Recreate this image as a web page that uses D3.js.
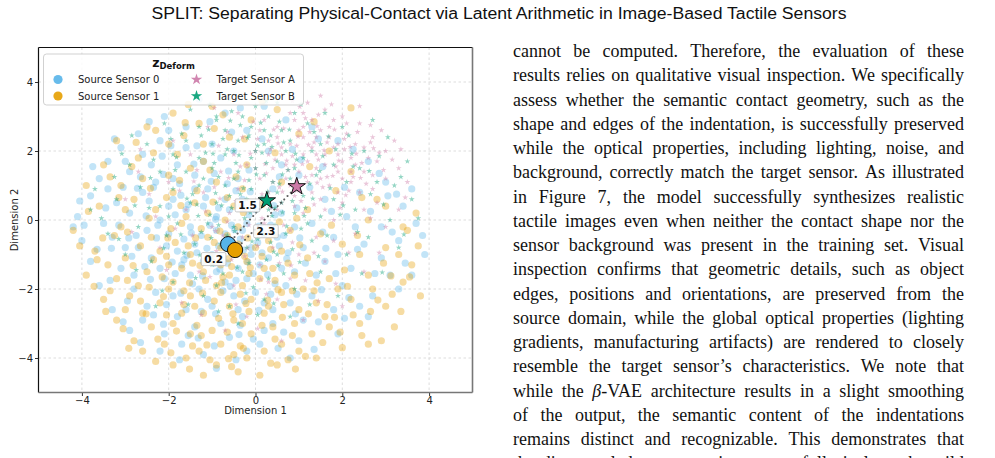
<!DOCTYPE html>
<html>
<head>
<meta charset="utf-8">
<script src="https://cdn.jsdelivr.net/npm/d3@7"></script>
<style>
  body { margin: 0; background: #fff; }
</style>
</head>
<body>
<svg id="page" width="995" height="458"></svg>
<script>
// ---- data (latent space, 2D projection) ----
const xTicks = [-4, -2, 0, 2, 4];
const yTicks = [-4, -2, 0, 2, 4];

const src0Points = [
  [-1.3,3.5],[0.2,3.3],[-2.1,3.0],[-0.7,3.1],[0.7,2.9],[-1.6,2.7],[-2.7,2.5],[-0.2,2.6],[1.3,2.7],[-3.1,2.1],
  [-2.2,2.3],[-1.0,2.2],[0.3,2.0],[1.9,2.3],[-3.4,1.7],[-2.6,1.9],[-1.8,1.6],[-0.8,1.8],[0.6,1.6],[2.6,1.7],
  [-3.6,1.2],[-2.9,1.4],[-2.3,1.1],[-1.4,1.3],[-0.4,1.2],[1.0,1.3],[3.0,1.1],[-3.8,0.7],[-3.2,0.5],[-2.6,0.8],
  [-1.9,0.6],[-1.1,0.9],[-0.3,0.6],[0.4,0.9],[1.6,0.6],[2.4,0.8],[3.4,0.4],[-4.1,0.1],[-3.5,-0.1],[-2.9,0.2],
  [-2.2,0.0],[-1.6,0.3],[-0.9,0.1],[-0.2,-0.1],[0.6,0.2],[1.3,-0.1],[2.1,0.1],[2.9,-0.2],[3.7,-0.1],[-4.0,-0.6],
  [-3.3,-0.5],[-2.7,-0.8],[-2.0,-0.4],[-1.4,-0.7],[-0.7,-0.4],[-0.1,-0.8],[0.5,-0.5],[1.1,-0.8],[1.8,-0.5],[2.5,-0.7],
  [3.3,-0.6],[3.9,-1.0],[-3.8,-1.2],[-3.1,-1.4],[-2.4,-1.1],[-1.7,-1.3],[-1.0,-1.0],[-0.4,-1.4],[0.3,-1.1],[0.9,-1.5],
  [1.6,-1.2],[2.2,-1.4],[2.9,-1.1],[3.6,-1.6],[-3.6,-1.9],[-2.8,-2.0],[-2.1,-1.7],[-1.3,-2.0],[-0.7,-1.8],[0.0,-2.1],
  [0.7,-1.9],[1.3,-2.2],[2.0,-1.9],[2.7,-2.2],[3.3,-2.0],[-3.3,-2.6],[-2.5,-2.5],[-1.8,-2.8],[-1.0,-2.5],[-0.3,-2.8],
  [0.4,-2.6],[1.1,-2.9],[1.8,-2.6],[2.6,-2.8],[-2.9,-3.2],[-2.1,-3.3],[-1.4,-3.1],[-0.6,-3.4],[0.2,-3.2],[1.0,-3.5],
  [1.9,-3.3],[-2.2,-3.8],[-1.2,-3.9],[-0.2,-3.8],[0.8,-4.0],[-0.9,-4.3],
  [-1.2,0.4],[-0.6,0.3],[-1.5,-0.2],[-0.9,-0.3],[-0.3,-0.3],[0.2,-0.4],[-1.8,-0.9],[-1.2,-1.2],[-0.5,-1.0],[0.1,-1.3],
  [-2.2,-1.4],[-1.5,-1.6],[-0.9,-1.5],[-0.2,-1.7],[0.6,-1.4],[-1.9,-2.2],[-1.1,-2.3],[-0.5,-2.2],[0.2,-2.4],[-1.4,0.9],
  [-2.0,0.4],[-2.5,-0.3],[-0.7,0.6],[0.0,0.3],[0.9,-0.2],[-2.8,-1.6],[-0.1,-1.0],[-1.6,-2.6],[-2.3,-2.1],[0.8,-2.4],
  [-0.4,-2.6],[-1.9,1.2],[-2.4,1.6],[-1.2,1.7],[-3.0,-0.8],[1.4,-1.6],[-3.4,0.9],[-2.0,2.6],[-1.6,2.1],[-0.5,2.0],
  [2.3,-0.2],[1.9,-1.0],[0.4,-3.0],[-0.8,-3.0],[-2.6,-2.9],[-3.0,1.7],[3.1,-1.6],[2.4,-2.5],[0.1,-3.6],[-1.7,-3.6],
  [3.6,0.9],[3.05,0.7],[-4.2,-0.2],
  [-0.35,-0.55],[-1.05,-0.15],[-1.65,-0.55],[-0.85,-0.75],[0.35,-0.15],[-0.15,0.15],[-1.35,-0.95],[-0.65,-1.25],[0.05,-0.65],[0.75,-0.95],
  [-2.05,-0.75],[-1.85,0.15],[-1.15,0.65],[-0.45,0.85],[0.25,0.55],[0.95,0.35],[-2.45,0.55],[-2.75,-0.45],[-1.45,-1.85],[-0.75,-2.05],
  [0.45,-1.85],[1.15,-1.25],[1.55,-0.35],[-2.55,-1.35],[-3.15,-0.15],[-1.75,1.05],[-0.95,1.35],[-0.15,1.45],[0.55,1.25],[1.25,0.95],
  [-2.15,1.85],[-1.35,2.15],[-0.55,2.55],[0.15,2.35],[0.85,2.05],[1.55,1.55],[2.05,0.95],[2.65,0.25],[3.15,-0.35],[-3.45,0.35],
  [-3.65,-0.85],[-3.35,-1.75],[-2.95,-2.35],[-2.35,-2.75],[-1.55,-3.35],[-0.95,-3.65],[-0.05,-3.45],[0.65,-3.25],[1.45,-2.95],[2.15,-2.25],
  [2.75,-1.55],[3.45,-1.25],[3.85,-0.45],[-4.05,0.55],[-3.95,-0.15],[-1.25,-0.45],[-0.55,-0.15],[-0.05,-1.55],[-1.85,-1.55],[-2.25,-0.15],
  [-1.55,0.45],[-0.85,0.35],[0.15,-0.95],[0.65,-0.45],[-0.25,-2.35],[-1.25,-2.65],[-2.05,-2.45],[0.95,-2.15],[1.85,-1.55],[2.35,-0.85],
  [1.75,0.25],[0.45,0.15],[-0.65,1.05],[-2.65,1.25],[-3.05,0.95],[-2.85,-1.05],[-0.35,-3.05],[0.35,-2.15],[-1.65,-1.15],[-0.95,-1.25],
  [-0.45,-1.75],[-2.35,0.95],[-1.95,2.15],[-1.05,2.85],[-0.35,3.25],[-2.45,2.85],[-3.25,2.35],[1.05,1.75],[1.45,2.35],[2.25,2.05],
  [2.85,1.35],[3.25,0.75],[-3.75,1.55],[2.05,-2.85],[1.35,-3.75],[-0.45,-4.05],[-1.75,-4.05],[-2.65,-3.55],[-3.05,-2.95],[0.55,-0.75],
  [-0.72,-0.62],[-0.28,-0.88],[-1.12,-0.82],[-0.48,-0.28],[-1.48,-0.38],[-0.92,0.02],[0.08,-0.18],[-0.18,-1.22],[-0.82,-1.42],[-1.58,-1.02],
  [-2.28,-0.52],[-1.92,-1.22],[-1.22,-1.62],[-0.58,-1.92],[0.28,-1.58],[0.72,-1.12],[1.02,-0.52],[0.42,0.42],[-0.32,0.42],[-1.02,1.12],
  [-1.72,0.72],[-2.52,0.12],[-2.92,-0.52],[-2.42,-1.72],[-1.72,-2.12],[-0.92,-2.72],[0.08,-2.62],[0.92,-2.72],[1.52,-2.02],[1.62,-0.82],
  [-0.12,0.82],[-0.62,1.42],[-1.42,1.62],[-2.12,1.32],[-2.72,0.92],[-3.32,-0.82],[-2.12,-3.02],[-1.32,-3.42],[-0.38,-3.32],[0.52,-3.72]
];

const src1Points = [
  [-1.0,3.3],[-1.9,3.1],[0.5,3.2],[-2.5,2.7],[-1.3,2.8],[-0.1,2.9],[1.0,2.5],[-3.2,2.3],[-2.0,2.2],[-0.6,2.4],
  [1.7,2.0],[-3.5,1.6],[-2.7,1.8],[-1.5,1.5],[-0.2,1.6],[2.2,1.4],[-3.9,1.0],[-3.1,1.0],[-2.0,1.3],[-0.9,1.1],
  [0.6,1.1],[2.8,0.6],[-3.6,0.4],[-2.8,0.6],[-1.4,0.5],[-0.5,0.4],[1.2,0.3],[2.6,0.0],[3.5,-0.3],[-4.2,-0.3],
  [-3.1,-0.2],[-2.4,-0.5],[-1.7,-0.1],[-1.1,-0.5],[-0.4,-0.2],[0.3,-0.6],[1.5,-0.4],[3.0,-0.8],[-3.7,-0.9],[-3.0,-1.1],
  [-2.2,-0.9],[-1.5,-1.0],[-0.8,-0.8],[-0.2,-1.2],[0.6,-0.9],[1.2,-1.1],[2.4,-1.0],[3.6,-1.3],[-3.9,-1.6],[-3.2,-1.7],
  [-2.5,-1.5],[-1.9,-1.8],[-1.2,-1.5],[-0.6,-1.6],[0.1,-1.7],[0.9,-1.6],[1.7,-1.7],[2.6,-1.6],[3.4,-1.8],[-3.5,-2.3],
  [-2.9,-2.2],[-2.2,-2.4],[-1.5,-2.2],[-0.8,-2.1],[-0.1,-2.3],[0.6,-2.1],[1.4,-2.4],[2.2,-2.3],[3.0,-2.5],[3.8,-2.2],
  [-3.2,-2.9],[-2.6,-2.7],[-1.9,-3.0],[-1.2,-2.7],[-0.5,-2.9],[0.2,-2.7],[0.9,-3.0],[1.6,-2.8],[2.4,-3.0],[3.2,-3.1],
  [-2.8,-3.5],[-2.1,-3.6],[-1.5,-3.3],[-0.8,-3.6],[-0.1,-3.3],[0.6,-3.6],[1.3,-3.3],[2.0,-3.7],[2.9,-3.5],[-2.3,-4.1],
  [-1.6,-4.0],[-0.9,-4.2],[-0.2,-4.0],[0.5,-4.2],[1.4,-4.0],[-1.2,-4.5],[0.1,-4.5],
  [-1.0,-1.2],[-0.4,-0.7],[-1.7,-1.4],[-0.9,-1.9],[-0.3,-1.9],[0.4,-1.4],[-2.0,-2.0],[-1.4,-2.5],[-0.6,-2.5],[0.3,-2.5],
  [1.0,-2.6],[-2.4,-3.1],[-1.7,-2.7],[-1.0,-3.2],[-0.3,-3.0],[0.4,-3.1],[1.7,-3.1],[-2.6,-3.8],[-1.3,-3.8],[-0.5,-3.9],
  [1.0,-3.8],[-2.0,-1.3],[-2.7,-1.9],[-1.6,0.1],[-0.7,0.0],[-2.3,0.3],[-2.6,1.2],[-1.8,1.9],[-0.8,-1.3],[0.0,-0.8],
  [0.8,-0.3],[1.9,-2.0],[2.7,-2.0],[2.0,-0.7],[-3.4,-1.3],[-3.0,0.3],[-1.2,2.2],[-2.3,2.6],[-0.3,0.9],[-1.1,0.2],
  [1.1,-2.0],[0.2,-3.8],[-1.9,-4.2],[-3.0,-2.6],[2.6,-3.6],[3.3,-1.0],[-0.4,-4.4],[-1.2,1.7],[-1.9,0.8],[0.2,-1.4],
  [2.2,3.25],[3.7,0.2],[3.4,-0.2],[3.0,0.4],
  [-0.25,-1.05],[-0.95,-0.65],[-1.45,-1.25],[-0.55,-1.35],[0.15,-1.05],[0.75,-1.25],[-1.85,-0.65],[-2.35,-1.15],[-1.15,-1.75],[-0.35,-2.15],
  [0.45,-1.75],[1.25,-1.55],[-2.15,-1.65],[-1.65,-2.05],[-0.95,-2.35],[-0.15,-2.65],[0.65,-2.45],[1.35,-2.05],[2.05,-1.45],[-2.65,-2.35],
  [-2.05,-2.75],[-1.35,-3.05],[-0.65,-3.25],[0.15,-3.05],[0.85,-3.35],[1.55,-3.55],[2.25,-2.75],[-2.95,-1.75],[-3.35,-2.05],[-3.65,-1.15],
  [-1.25,-0.25],[-0.65,-0.45],[0.05,-0.35],[0.55,-0.05],[-1.95,-0.25],[-2.65,-0.75],[-3.25,-0.45],[-2.05,0.65],[-1.35,0.85],[-0.65,0.65],
  [0.15,0.45],[0.95,0.05],[1.75,-0.15],[2.35,-0.45],[2.95,-1.25],[3.55,-1.65],[3.15,-2.15],[2.65,-2.65],[1.95,-3.25],[1.15,-3.95],
  [0.35,-4.15],[-0.55,-4.25],[-1.45,-3.65],[-2.25,-3.45],[-3.05,-3.15],[-3.45,-2.65],[-2.85,1.55],[-2.35,1.95],[-1.65,2.45],[-0.95,2.65],
  [-0.25,2.35],[0.45,1.95],[1.25,1.55],[1.85,0.85],[2.45,0.65],[-3.35,1.25],[-3.85,0.25],[-4.05,-0.75],[-1.05,1.45],[-0.45,1.25],
  [-1.75,1.15],[-2.45,0.05],[-0.85,-2.85],[-1.65,-2.45],[-2.45,-1.95],[0.85,-2.05],[1.65,-2.45],[-0.15,-1.55],[-1.05,-1.05],[-0.45,-0.95],
  [0.35,-0.85],[-1.55,-0.75],[-2.95,-0.35],[-3.15,0.65],[-1.95,-3.85],[-1.05,-4.05],[0.75,-4.05],[2.45,-3.35],[3.35,-2.65],[3.75,-0.75],
  [-0.75,3.05],[0.15,3.45],[-1.55,3.35],[1.35,2.85],[-2.75,2.25],[-0.35,-3.65],[-1.25,-3.35],[0.45,-3.45],[-2.05,-1.05],[-0.75,-1.65],
  [-0.62,-1.12],[-0.12,-1.38],[-1.28,-1.32],[-0.78,-1.82],[-0.22,-2.42],[0.52,-2.02],[-1.52,-1.82],[-2.12,-2.22],[-1.22,-2.12],[-0.52,-2.72],
  [0.28,-2.32],[1.22,-2.72],[-1.82,-3.22],[-1.12,-3.62],[-0.28,-3.72],[0.62,-2.82],[1.42,-1.82],[-2.52,-2.72],[-2.82,-1.32],[-2.02,-0.52],
  [-1.38,-0.52],[-0.82,-0.32],[-0.18,-0.52],[0.42,-0.42],[1.02,-0.72],[-1.72,0.42],[-0.98,0.52],[-0.28,0.22],[-2.42,0.92],[-3.52,-0.52],
  [2.12,-1.92],[2.82,-2.32],[1.82,-2.82],[-0.62,-4.02],[-1.52,-4.32],[0.92,-4.32],[-2.92,-3.72],[3.12,-1.62],[-3.72,-1.92],[-1.62,2.82]
];

const tgtAPoints = [
  [1.2,3.4],[1.6,3.2],[0.8,3.1],[2.0,3.0],[1.3,2.9],[2.4,2.8],[0.5,2.7],[1.0,2.6],[1.7,2.7],[2.1,2.5],
  [2.7,2.4],[0.3,2.3],[0.8,2.2],[1.4,2.4],[1.9,2.2],[2.5,2.1],[3.0,2.0],[0.0,2.0],[0.6,1.9],[1.1,1.9],
  [1.6,1.9],[2.2,1.8],[2.8,1.7],[3.3,1.5],[-0.2,1.6],[0.4,1.5],[0.9,1.6],[1.4,1.5],[1.9,1.4],[2.5,1.4],
  [3.0,1.2],[0.1,1.2],[0.7,1.2],[1.2,1.1],[1.7,1.0],[2.2,1.1],[2.7,0.9],[-0.4,0.9],[0.3,0.8],[0.9,0.7],
  [1.5,0.6],[2.0,0.5],[2.5,0.3],[-0.1,0.4],[0.5,0.3],[1.1,0.2],[1.8,0.0],[0.2,-0.1],[0.8,-0.3],[1.4,-0.5],
  [1.3,2.1],[1.8,2.9],[2.3,2.2],[0.9,2.9],[1.5,1.2],[2.0,1.7],[1.0,1.4],[0.5,2.4],[2.6,1.8],[1.7,2.4],
  [2.2,1.4],[1.2,1.7],[0.7,1.6],[1.9,1.9],[1.1,2.4],[2.9,2.6],[2.4,3.3],[1.5,3.6],[0.2,2.9],[3.2,2.3],
  [3.5,1.1],[2.8,0.5],[0.6,0.5],[1.3,0.8],[1.9,0.8],[0.0,1.5],[-0.5,1.9],[-0.3,2.4],[0.4,1.1],[2.4,0.8],
  [1.6,1.6],[2.1,2.8],[0.8,1.0],[1.4,1.9],[2.0,1.2],[1.1,3.1],[0.6,2.1],
  [1.1,2.7],[1.8,2.1],[0.3,1.9],[2.3,1.6],[1.5,2.6],[0.9,0.4],[1.6,0.3],[2.7,1.3],[0.1,2.6],[1.3,1.3],
  [-0.8,1.4],[-1.2,0.8],[-0.6,0.2],[-1.5,1.9],[-2.0,1.1],[-1.0,-0.2],[-0.3,-0.5],[0.4,-0.8],[1.0,-1.0],[-1.6,0.3],
  [-0.9,-0.9],[0.1,-1.3],[0.8,-1.7],[-2.3,0.1],[-1.3,-1.5],[-0.5,-1.9],[0.5,-2.3],[1.6,-1.2],[2.3,-0.4],[3.0,-0.2],
  [-2.7,1.4],[-1.9,2.3],[-1.1,2.7],[-0.4,3.1],[2.5,-1.5],[-2.2,-0.8],[-0.2,-2.8],[1.1,-2.9],[3.3,0.3],[-1.7,-2.4],
  [-0.7,-3.2],[0.6,-3.5],[2.0,-2.5],[-3.0,0.6],[0.3,-1.8],[1.8,-0.6],
  [1.25,2.55],[1.65,2.25],[2.05,2.05],[0.95,2.15],[1.45,1.75],[1.85,1.55],[2.45,1.65],[0.75,1.45],[1.15,1.25],[1.65,1.25],
  [2.15,0.85],[0.55,0.95],[0.95,0.85],[1.35,0.45],[2.05,2.35],[1.45,3.05],[2.65,2.25],[0.35,2.05],[0.65,2.65],[2.85,1.95],
  [3.15,1.75],[2.35,2.55],[1.75,3.35],[0.85,3.45],[2.95,1.45],[0.25,1.35],[1.05,0.55],[2.55,1.05],[1.95,0.35],[0.15,0.75],
  [1.35,2.25],[0.85,1.85],[2.25,1.25],[1.55,0.95],[0.45,1.75],[1.15,2.95],[2.65,2.75],[3.35,2.05],[0.05,2.35],[-0.25,1.15],
  [-0.45,0.55],[-0.15,-0.15],[0.35,0.35],[-0.75,-0.45],[0.05,-0.75],[0.55,-1.25],[-1.15,0.25],[-0.55,-1.15],[0.85,-0.65],[1.35,-0.95],
  [-1.45,-0.45],[-0.95,0.95],[-0.35,1.55],[-1.35,1.45],[-0.85,2.15],[0.25,-2.15],[-1.05,-1.65],[1.15,-1.75],[2.15,-0.95],[2.65,0.05],
  [-0.25,-1.05],[0.65,-0.15],[-0.65,-0.05],[0.15,0.05],[-1.75,0.85],[-2.45,0.75],[-0.05,2.85],[-0.65,2.55],[1.85,-1.85],[0.05,-3.15],
  [-1.25,-2.75],[-2.05,-1.45],[2.85,-0.95],[3.45,0.65],[-1.85,-0.25],[-0.45,-2.45],[1.45,-2.35],[-2.85,-0.35],[-2.65,2.05],[-0.95,3.25],
  [0.72,1.72],[1.22,2.18],[1.58,2.02],[1.92,1.72],[2.18,2.12],[1.42,2.72],[0.98,2.42],[0.52,2.22],[1.78,1.28],[2.42,1.22],
  [1.08,1.62],[0.62,0.82],[1.42,1.08],[2.08,0.72],[2.32,1.92],[1.82,2.62],[1.02,3.28],[2.72,2.08],[0.22,1.62],[0.42,2.62],
  [-0.12,1.92],[-0.62,1.22],[-0.32,0.32],[0.32,-0.32],[-0.82,0.62],[0.82,-1.32],[-1.42,1.12],[-0.18,-0.82],[-0.92,-0.32],[0.12,-1.72]
];

const tgtBPoints = [
  [-0.6,3.5],[0.0,3.3],[0.5,3.4],[-0.9,3.0],[-0.3,3.0],[0.3,3.0],[0.9,3.1],[-1.3,2.7],[-0.7,2.6],[-0.1,2.7],
  [0.6,2.6],[1.2,2.8],[-1.6,2.3],[-1.0,2.2],[-0.4,2.3],[0.2,2.2],[0.8,2.3],[1.5,2.2],[-1.9,1.9],[-1.3,1.8],
  [-0.7,1.9],[-0.1,1.8],[0.5,1.7],[1.1,1.8],[1.8,1.6],[-2.2,1.4],[-1.6,1.4],[-1.0,1.5],[-0.4,1.4],[0.2,1.3],
  [0.8,1.2],[1.4,1.3],[2.1,1.1],[-1.9,0.9],[-1.3,1.0],[-0.7,1.0],[-0.1,0.9],[0.5,0.8],[1.1,0.7],[1.8,0.6],
  [-2.2,0.4],[-1.5,0.5],[-0.9,0.5],[-0.3,0.4],[0.3,0.3],[0.9,0.2],[1.5,0.1],[-1.8,-0.1],[-1.1,-0.1],[-0.5,-0.2],
  [0.1,-0.3],[0.7,-0.4],[1.3,-0.6],[-1.4,-0.7],[-0.8,-0.7],[-0.2,-0.8],[0.5,-1.0],[-1.0,-1.3],[-0.3,-1.5],[0.3,-1.7],
  [0.0,2.0],[0.4,1.1],[-0.5,1.2],[0.9,1.5],[-0.2,0.6],[0.6,0.5],[-0.9,2.9],[0.2,2.6],[-0.5,2.0],[1.3,2.0],
  [0.7,2.0],[-1.2,1.2],[0.0,1.5],[1.0,1.0],[-0.6,0.7],
  [-2.5,2.2],[-2.9,1.6],[-3.7,0.9],[-3.8,0.3],[-3.2,0.6],[-2.7,-0.2],[-3.0,-1.0],[-2.4,-1.2],[-1.9,-1.8],[-1.2,-2.2],
  [-0.6,-2.5],[0.2,-2.3],[0.9,-2.0],[1.5,-1.5],[2.1,-1.0],[2.6,-0.5],[3.1,0.0],[3.6,0.6],[3.5,1.7],[3.05,2.4],
  [2.5,2.0],[2.8,1.1],[2.3,0.3],[2.0,2.7],[1.6,3.1],[-1.5,3.2],[-2.1,2.8],[-0.4,-3.0],[-2.3,-2.5],[0.8,-2.8],
  [1.9,-2.2],[3.3,-0.8],[-3.4,-0.4],[-2.0,0.1],[2.7,2.9],[1.2,-0.1],[-1.7,2.5],[2.4,1.5],[3.2,1.0],[-0.9,-1.9],
  [-0.35,2.75],[0.35,2.45],[-0.75,2.35],[0.05,2.15],[0.65,2.25],[-1.15,1.95],[-0.45,1.65],[0.25,1.65],[0.95,1.75],[-0.85,1.25],
  [-0.15,1.15],[0.55,1.05],[1.25,1.05],[-1.45,0.75],[-0.55,0.35],[0.15,0.65],[0.85,0.55],[-1.05,0.15],[-0.25,0.05],[0.45,-0.15],
  [1.05,-0.25],[-0.65,-0.45],[0.05,-0.55],[-1.25,-0.35],[-0.45,-0.95],[0.25,-1.15],[0.85,-0.85],[-0.75,-1.55],[-0.05,-1.95],[0.65,-1.55],
  [-1.65,-0.95],[-2.05,-0.45],[-2.45,0.35],[-2.65,0.95],[-2.35,1.75],[-1.95,2.35],[-1.25,2.45],[-0.55,3.15],[0.25,3.45],[1.05,3.35],
  [1.35,2.55],[1.85,2.05],[2.25,1.55],[2.65,0.75],[1.95,0.15],[1.65,-0.45],[2.35,-0.35],[2.95,0.45],[3.35,1.25],[3.75,0.05],
  [-3.25,1.25],[-3.55,0.05],[-3.15,-0.55],[-2.75,-1.45],[-2.15,-2.05],[-1.55,-2.45],[-0.85,-2.65],[0.05,-2.75],[1.25,-2.45],[2.45,-1.55],
  [0.45,0.35],[-0.35,0.75],[0.75,1.45],[-0.95,1.65],[0.15,1.95],[-0.15,2.45],[0.55,2.85],[-0.65,2.05],[1.55,1.85],[1.15,0.35],
  [-1.85,1.45],[-1.35,0.45],[-0.85,-0.15],[0.35,-0.65],[-0.15,-1.25],[2.15,2.45],[2.85,1.85],[-2.85,2.45],[-1.05,3.35],[1.45,-1.05],
  [-0.12,0.22],[0.38,0.12],[-0.48,-0.32],[0.18,-0.42],[0.62,0.22],[-0.78,0.42],[-0.28,0.92],[0.28,0.82],[0.72,-0.18],[-1.02,-0.52],
  [-0.62,-0.82],[-0.08,-0.62],[0.42,-0.92],[1.12,0.12],[1.32,0.62],[-1.32,0.12],[-1.58,0.62],[-0.92,0.78],[0.02,1.32],[0.62,1.32],
  [-0.38,1.88],[0.38,2.12],[-0.18,2.38],[0.78,2.62],[-1.08,2.62],[-0.58,2.88],[0.12,2.82],[1.48,1.42],[1.72,0.92],[2.02,0.42],
  [-1.72,-0.42],[-1.28,-1.02],[-0.42,-1.38],[0.52,-1.32],[1.02,-1.22],[-0.22,-2.12],[0.42,-2.42],[-1.38,-1.68],[-2.12,-0.82],[-2.42,1.22],
  [-1.82,1.82],[-0.98,1.92],[0.92,1.92],[1.68,2.42],[2.22,1.92],[2.62,1.42],[-2.78,0.42],[-3.08,1.92],[3.42,-0.42],[2.92,-1.52]
];

// class centroids and the distances drawn between them
const centroidNames = ["Source Sensor 0", "Source Sensor 1", "Target Sensor A", "Target Sensor B"];
const centroidX = [-0.63, -0.47, 0.95, 0.26];
const centroidY = [-0.70, -0.87, 0.97, 0.56];
const distancePairs = [[0, 1], [0, 3], [1, 2]];

// ---- styling ----
const colors = ["#56B4E9", "#E69F00", "#CC79A7", "#009E73"];
const shapes = ["circle", "circle", "star", "star"];
const labelOffsets = [[-18, 12], [0, -17], [0, 13]];

const bodyLines = [
  "cannot be computed. Therefore, the evaluation of these",
  "results relies on qualitative visual inspection. We specifically",
  "assess whether the semantic contact geometry, such as the",
  "shape and edges of the indentation, is successfully preserved",
  "while the optical properties, including lighting, noise, and",
  "background, correctly match the target sensor. As illustrated",
  "in Figure 7, the model successfully synthesizes realistic",
  "tactile images even when neither the contact shape nor the",
  "sensor background was present in the training set. Visual",
  "inspection confirms that geometric details, such as object",
  "edges, positions and orientations, are preserved from the",
  "source domain, while the global optical properties (lighting",
  "gradients, manufacturing artifacts) are rendered to closely",
  "resemble the target sensor\u2019s characteristics. We note that",
  "while the \u03b2-VAE architecture results in a slight smoothing",
  "of the output, the semantic content of the indentations",
  "remains distinct and recognizable. This demonstrates that",
  "the disentangled representation successfully isolates the wild"
];

const svg = d3.select("#page");
const sansFont = "DejaVu Sans, Verdana, sans-serif";

// page header
svg.append("text")
    .attr("x", 499)
    .attr("y", 19)
    .attr("text-anchor", "middle")
    .attr("font-family", "Liberation Sans, Arial, sans-serif")
    .attr("font-size", "16px")
    .attr("textLength", 695)
    .attr("lengthAdjust", "spacingAndGlyphs")
    .attr("fill", "#111")
    .text("SPLIT: Separating Physical-Contact via Latent Arithmetic in Image-Based Tactile Sensors");

// ---- chart ----
let mLeft = 38.5, mTop = 47.5,
    width = 434, height = 345;

let xAxis = d3.scaleLinear().domain([-5, 5]).range([0, width]),
    yAxis = d3.scaleLinear().domain([-5, 5]).range([height, 0]);

let g = svg.append("g")
    .attr("transform", "translate(" + mLeft + "," + mTop + ")");

svg.append("defs").append("clipPath").attr("id", "plotClip")
    .append("rect").attr("width", width).attr("height", height);

// dashed grid
g.append("g").selectAll("line")
    .data(xTicks).enter().append("line")
    .attr("x1", d => xAxis(d)).attr("x2", d => xAxis(d))
    .attr("y1", 0).attr("y2", height)
    .attr("stroke", "#d4d4d4").attr("stroke-width", 0.8)
    .attr("stroke-dasharray", "2.5,2.5");
g.append("g").selectAll("line")
    .data(yTicks).enter().append("line")
    .attr("y1", d => yAxis(d)).attr("y2", d => yAxis(d))
    .attr("x1", 0).attr("x2", width)
    .attr("stroke", "#d4d4d4").attr("stroke-width", 0.8)
    .attr("stroke-dasharray", "2.5,2.5");

let cloud = g.append("g").attr("clip-path", "url(#plotClip)");

function starPath(r) {
    return d3.symbol(d3.symbolStar, r * r / 0.8908130915292852)();
}

// latent samples
function drawCloud(points, i) {
    let layer = cloud.append("g");
    if (shapes[i] === "circle") {
        layer.selectAll("circle")
            .data(points).enter().append("circle")
            .attr("cx", d => xAxis(d[0]))
            .attr("cy", d => yAxis(d[1]))
            .attr("r", 3.6)
            .attr("fill", colors[i])
            .attr("fill-opacity", 0.36);
    } else {
        layer.selectAll("path")
            .data(points).enter().append("path")
            .attr("d", starPath(3.1))
            .attr("transform", d => "translate(" + xAxis(d[0]) + "," + yAxis(d[1]) + ")")
            .attr("fill", colors[i])
            .attr("fill-opacity", 0.42);
    }
}
drawCloud(src0Points, 0);
drawCloud(src1Points, 1);
drawCloud(tgtAPoints, 2);
drawCloud(tgtBPoints, 3);

// distance lines between centroids
let links = g.append("g");
distancePairs.forEach(function(p) {
    links.append("line")
        .attr("x1", xAxis(centroidX[p[0]])).attr("y1", yAxis(centroidY[p[0]]))
        .attr("x2", xAxis(centroidX[p[1]])).attr("y2", yAxis(centroidY[p[1]]))
        .attr("stroke", "#3a3a3a")
        .attr("stroke-opacity", 0.8)
        .attr("stroke-width", 2)
        .attr("stroke-linecap", "round")
        .attr("stroke-dasharray", "0.1,4.6");
});

// centroid markers
let marks = g.append("g");
centroidNames.forEach(function(name, i) {
    let cx = xAxis(centroidX[i]), cy = yAxis(centroidY[i]);
    if (shapes[i] === "circle") {
        marks.append("circle")
            .attr("cx", cx).attr("cy", cy).attr("r", 7.6)
            .attr("fill", colors[i])
            .attr("stroke", "#111").attr("stroke-width", 1);
    } else {
        marks.append("path")
            .attr("d", starPath(9.2))
            .attr("transform", "translate(" + cx + "," + cy + ")")
            .attr("fill", colors[i])
            .attr("stroke", "#111").attr("stroke-width", 1);
    }
});

// distance labels
let tags = g.append("g");
distancePairs.forEach(function(p, k) {
    let a = p[0], b = p[1];
    let dist = Math.hypot(centroidX[a] - centroidX[b], centroidY[a] - centroidY[b]);
    let mx = (xAxis(centroidX[a]) + xAxis(centroidX[b])) / 2 + labelOffsets[k][0],
        my = (yAxis(centroidY[a]) + yAxis(centroidY[b])) / 2 + labelOffsets[k][1];
    let tag = tags.append("g").attr("transform", "translate(" + mx + "," + my + ")");
    let box = tag.append("rect");
    let txt = tag.append("text")
        .attr("text-anchor", "middle")
        .attr("dy", "0.36em")
        .attr("font-family", sansFont)
        .attr("font-size", "10.5px")
        .attr("font-weight", "bold")
        .attr("fill", "#111")
        .text(d3.format(".1f")(dist));
    let w = txt.node().getComputedTextLength() + 6;
    box.attr("x", -w / 2).attr("y", -6.5).attr("width", w).attr("height", 13)
        .attr("rx", 1.5)
        .attr("fill", "#fff").attr("fill-opacity", 0.85)
        .attr("stroke", "#bbb").attr("stroke-width", 0.8);
});

// axes
let xg = g.append("g")
    .attr("transform", "translate(0," + height + ")")
    .call(d3.axisBottom(xAxis).tickValues(xTicks).tickSize(3.5).tickPadding(0.8));
let yg = g.append("g")
    .call(d3.axisLeft(yAxis).tickValues(yTicks).tickSize(3.5).tickPadding(2));
[xg, yg].forEach(function(ax) {
    ax.select(".domain").remove();
    ax.selectAll("line").attr("stroke", "#333");
    ax.selectAll("text")
        .attr("font-family", sansFont)
        .attr("font-size", "10px")
        .attr("fill", "#222");
});

// frame: top/left dark, bottom/right grey
g.append("line").attr("x1", 0).attr("x2", width).attr("y1", 0).attr("y2", 0)
    .attr("stroke", "#111").attr("stroke-width", 1.2);
g.append("line").attr("x1", 0).attr("x2", 0).attr("y1", 0).attr("y2", height)
    .attr("stroke", "#111").attr("stroke-width", 1.2);
g.append("line").attr("x1", 0).attr("x2", width).attr("y1", height).attr("y2", height)
    .attr("stroke", "#777").attr("stroke-width", 1.6);
g.append("line").attr("x1", width).attr("x2", width).attr("y1", 0).attr("y2", height)
    .attr("stroke", "#777").attr("stroke-width", 1.6);

g.append("text")
    .attr("x", width / 2)
    .attr("y", height + 21.5)
    .attr("text-anchor", "middle")
    .attr("font-family", sansFont)
    .attr("font-size", "10px")
    .attr("fill", "#222")
    .text("Dimension 1");

g.append("text")
    .attr("transform", "rotate(-90)")
    .attr("x", -height / 2)
    .attr("y", -21)
    .attr("text-anchor", "middle")
    .attr("font-family", sansFont)
    .attr("font-size", "10px")
    .attr("fill", "#222")
    .text("Dimension 2");

// legend
let legend = g.append("g").attr("transform", "translate(5,6.5)");
legend.append("rect")
    .attr("width", 260).attr("height", 51)
    .attr("rx", 3)
    .attr("fill", "#fff").attr("fill-opacity", 0.85)
    .attr("stroke", "#ccc").attr("stroke-width", 0.9);
let lt = legend.append("text")
    .attr("x", 130).attr("y", 12.5)
    .attr("text-anchor", "middle")
    .attr("font-family", sansFont)
    .attr("font-weight", "bold")
    .attr("fill", "#111");
lt.append("tspan").attr("font-size", "12.5px").text("z");
lt.append("tspan").attr("font-size", "8.5px").attr("dy", 2).text("Deform");

centroidNames.forEach(function(name, i) {
    let col = Math.floor(i / 2), row = i % 2;
    let lx = 14.5 + col * 138.5, ly = 25.5 + row * 16.5;
    if (shapes[i] === "circle") {
        legend.append("circle").attr("cx", lx).attr("cy", ly).attr("r", 4.6)
            .attr("fill", colors[i]).attr("fill-opacity", 0.9);
    } else {
        legend.append("path").attr("d", starPath(6))
            .attr("transform", "translate(" + lx + "," + ly + ")")
            .attr("fill", colors[i]).attr("fill-opacity", 0.9);
    }
    legend.append("text")
        .attr("x", lx + 20).attr("y", ly).attr("dy", "0.35em")
        .attr("font-family", sansFont)
        .attr("font-size", "10px")
        .attr("fill", "#222")
        .text(name);
});

// ---- body text column (justified) ----
let textLeft = 513, textWidth = 451, firstBase = 57, lineGap = 24.25;
let body = svg.append("g")
    .attr("font-family", "Liberation Serif, Times New Roman, serif")
    .attr("font-size", "18px")
    .attr("fill", "#111");

bodyLines.forEach(function(line, i) {
    let y = firstBase + i * lineGap;
    let words = line.split(" ");
    let nodes = words.map(function(w) {
        let t = body.append("text").attr("y", y);
        if (w.charAt(0) === "\u03b2") {
            t.append("tspan").attr("font-style", "italic").text("\u03b2");
            t.append("tspan").text(w.slice(1));
        } else {
            t.text(w);
        }
        return t;
    });
    let widths = nodes.map(t => t.node().getComputedTextLength());
    let gap = (textWidth - d3.sum(widths)) / (words.length - 1);
    let x = textLeft;
    nodes.forEach(function(t, j) {
        t.attr("x", x);
        x += widths[j] + gap;
    });
});
</script>
</body>
</html>
